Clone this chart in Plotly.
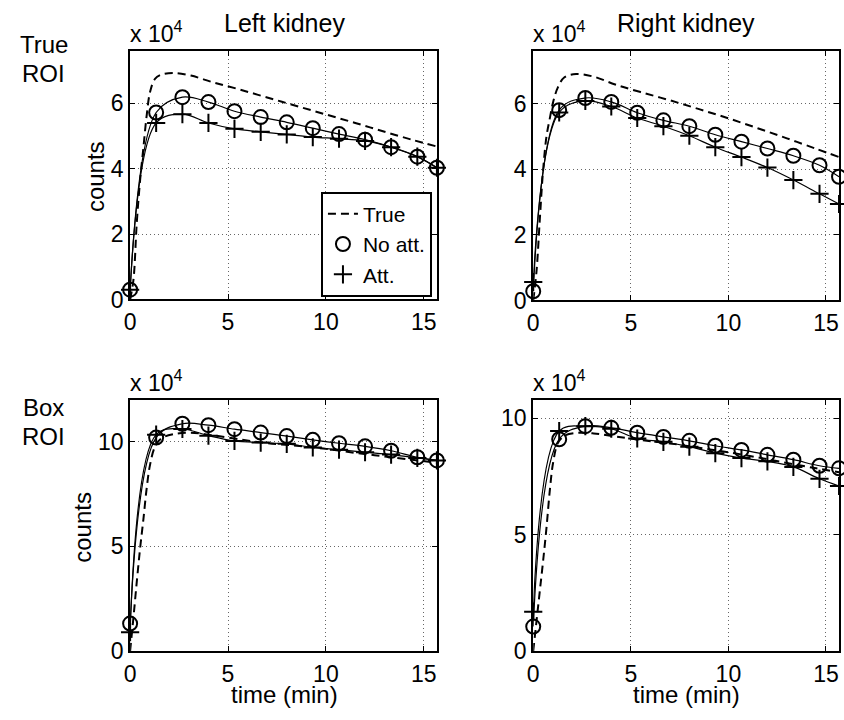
import plotly.graph_objects as go

W, H = 844, 720
FONT = "Liberation Sans"

# Frame times (min) of the sampled curves
time_min = [0.0, 1.33, 2.67, 4.0, 5.33, 6.67, 8.0, 9.33, 10.67, 12.0, 13.33, 14.67, 15.67]
# Time grid of the reference ("True") activity curves
true_time_min = [0.0, 0.17, 0.34, 0.51, 0.68, 0.85, 1.02, 1.27, 1.6, 2.2, 3.1,
                 4.2, 5.5, 7.0, 8.5, 10.0, 11.5, 13.0, 14.5, 15.67]

# Counts, in units of 10^4
left_true_roi_true = [0.0, 0.6, 2.35, 3.65, 4.65, 5.65, 6.35, 6.75, 6.88, 6.93, 6.85,
                      6.65, 6.44, 6.18, 5.92, 5.66, 5.4, 5.13, 4.87, 4.68]
left_true_roi_noatt = [0.3, 5.72, 6.19, 6.04, 5.76, 5.58, 5.42, 5.24, 5.06, 4.89, 4.66, 4.37, 4.03]
left_true_roi_att = [0.3, 5.4, 5.67, 5.4, 5.22, 5.13, 5.05, 4.97, 4.92, 4.85, 4.66, 4.37, 4.03]

right_true_roi_true = [0.0, 0.9, 2.5, 4.0, 5.0, 5.55, 6.05, 6.5, 6.8, 6.9, 6.82,
                       6.58, 6.35, 6.1, 5.83, 5.55, 5.25, 4.94, 4.62, 4.37]
right_true_roi_noatt = [0.28, 5.8, 6.17, 6.05, 5.72, 5.49, 5.31, 5.05, 4.84, 4.63, 4.41, 4.12, 3.77]
right_true_roi_att = [0.56, 5.73, 6.08, 5.91, 5.56, 5.31, 5.02, 4.67, 4.37, 4.05, 3.67, 3.25, 2.94]

left_box_roi_true = [0.0, 1.6, 3.3, 4.9, 6.3, 7.8, 8.9, 9.75, 10.15, 10.35, 10.42,
                     10.3, 10.12, 9.92, 9.8, 9.65, 9.46, 9.29, 9.12, 8.99]
left_box_roi_noatt = [1.31, 10.19, 10.85, 10.78, 10.59, 10.43, 10.26, 10.08, 9.92, 9.77, 9.56, 9.25, 9.1]
left_box_roi_att = [0.9, 10.33, 10.6, 10.28, 10.03, 9.95, 9.89, 9.72, 9.61, 9.49, 9.38, 9.22, 9.1]

right_box_roi_true = [0.0, 1.3, 2.6, 3.9, 5.3, 6.9, 8.1, 8.95, 9.25, 9.37, 9.35,
                      9.22, 9.07, 8.92, 8.73, 8.54, 8.32, 8.08, 7.85, 7.68]
right_box_roi_noatt = [1.05, 9.1, 9.66, 9.59, 9.38, 9.2, 9.03, 8.82, 8.64, 8.43, 8.22, 7.96, 7.85]
right_box_roi_att = [1.69, 9.45, 9.66, 9.55, 9.13, 8.99, 8.78, 8.5, 8.29, 8.15, 7.91, 7.4, 7.09]

x_tick_vals = [0, 5, 10, 15]
y_tick_vals_true_roi = [0, 2, 4, 6]
y_tick_vals_box_roi = [0, 5, 10]

column_titles = ["Left kidney", "Right kidney"]
row_titles = [["True", "ROI"], ["Box", "ROI"]]
legend_names = ["True", "No att.", "Att."]
x_title = "time (min)"
y_title = "counts"


def px(x):
    return x / W


def py(y):
    return 1 - y / H


# panel boxes in pixels: (left, right, top, bottom)
panels = [
    dict(box=(125, 434, 52, 305), true=left_true_roi_true, noatt=left_true_roi_noatt,
         att=left_true_roi_att, yrange=[0, 7.6], yticks=y_tick_vals_true_roi),
    dict(box=(531, 839, 52, 306), true=right_true_roi_true, noatt=right_true_roi_noatt,
         att=right_true_roi_att, yrange=[0, 7.6], yticks=y_tick_vals_true_roi),
    dict(box=(125, 434, 407, 663), true=left_box_roi_true, noatt=left_box_roi_noatt,
         att=left_box_roi_att, yrange=[0, 12], yticks=y_tick_vals_box_roi),
    dict(box=(531, 839, 407, 663), true=right_box_roi_true, noatt=right_box_roi_noatt,
         att=right_box_roi_att, yrange=[0, 10.8], yticks=y_tick_vals_box_roi),
]

fig = go.Figure()
layout = dict(
    width=W, height=H,
    margin=dict(l=0, r=0, t=0, b=0),
    paper_bgcolor="white", plot_bgcolor="white",
    font=dict(family=FONT, size=23, color="black"),
    showlegend=True,
)

axis_common = dict(
    showline=True, linecolor="black", linewidth=2, mirror="ticks",
    ticks="inside", ticklen=5, tickwidth=1, tickcolor="black",
    showgrid=True, gridcolor="#666666", gridwidth=1, griddash="1px,3px",
    zeroline=False, tickfont=dict(family=FONT, size=23, color="black"),
)

for i, p in enumerate(panels):
    sfx = "" if i == 0 else str(i + 1)
    xa, ya = "x" + sfx, "y" + sfx
    l, r, t, b = p["box"]
    layout["xaxis" + sfx] = dict(axis_common, domain=[px(l), px(r)], anchor=ya,
                                 range=[0, 15.67], tickvals=x_tick_vals,
                                 ticklabelstandoff=1)
    layout["yaxis" + sfx] = dict(axis_common, domain=[py(b), py(t)], anchor=xa,
                                 range=p["yrange"], tickvals=p["yticks"])
    first = i == 0
    # true activity curve (dashed)
    fig.add_trace(go.Scatter(
        x=true_time_min, y=p["true"], xaxis=xa, yaxis=ya, mode="lines",
        line=dict(color="black", width=2, dash="8px,5px", shape="spline"),
        name=legend_names[0], showlegend=first, legendrank=1))
    # connecting curves of the sampled series
    for key in ("noatt", "att"):
        fig.add_trace(go.Scatter(
            x=time_min, y=p[key], xaxis=xa, yaxis=ya, mode="lines",
            line=dict(color="black", width=1.2, shape="spline"),
            showlegend=False, hoverinfo="skip"))
    # sample markers
    fig.add_trace(go.Scatter(
        x=time_min, y=p["noatt"], xaxis=xa, yaxis=ya, mode="markers",
        marker=dict(symbol="circle-open", size=14, color="black",
                    line=dict(width=2, color="black")),
        name=legend_names[1], showlegend=first, legendrank=2, cliponaxis=False))
    fig.add_trace(go.Scatter(
        x=time_min, y=p["att"], xaxis=xa, yaxis=ya, mode="markers",
        marker=dict(symbol="cross-thin", size=13, color="black",
                    line=dict(width=2, color="black")),
        name=legend_names[2], showlegend=first, legendrank=3, cliponaxis=False))

layout["legend"] = dict(
    x=px(429), y=py(302), xanchor="right", yanchor="bottom",
    bgcolor="white", bordercolor="black", borderwidth=2,
    font=dict(family=FONT, size=21, color="black"),
    tracegroupgap=0, itemwidth=30,
)

annotations = []


def add_text(text, x, y, size=23, xanchor="center", yanchor="middle", angle=0):
    annotations.append(dict(text=text, x=px(x), y=py(y), xref="paper", yref="paper",
                            xanchor=xanchor, yanchor=yanchor, showarrow=False,
                            textangle=angle, font=dict(family=FONT, size=size, color="black")))


add_text(column_titles[0], 280, 23, size=25)
add_text(column_titles[1], 685, 23, size=25)
add_text(row_titles[0][0], 38, 45, size=24)
add_text(row_titles[0][1], 38, 75, size=24)
add_text(row_titles[1][0], 38, 415, size=24)
add_text(row_titles[1][1], 38, 445, size=24)
for (l, r, t, b) in [p["box"] for p in panels]:
    add_text("x 10<sup>4</sup>", l - 2, t - 2, xanchor="left", yanchor="bottom")
add_text(y_title, 90, 180, size=24, angle=-90)
add_text(y_title, 77, 537, size=24, angle=-90)
add_text(x_title, 280, 707, size=24)
add_text(x_title, 685, 707, size=24)

layout["annotations"] = annotations
fig.update_layout(**layout)
fig.write_html("out.html")
